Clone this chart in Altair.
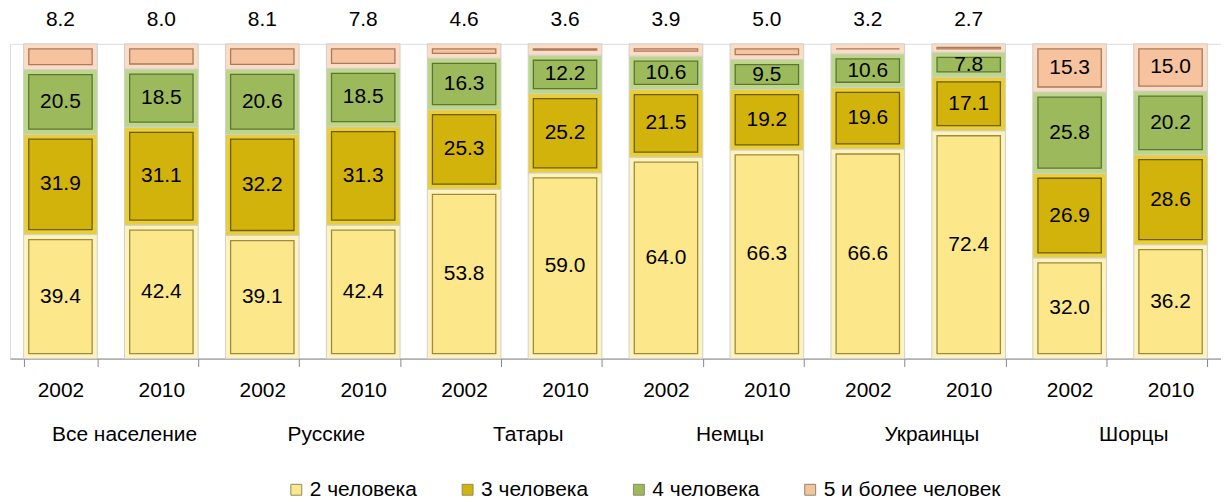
import altair as alt
import pandas as pd

groups = ["Все население", "Все население", "Русские", "Русские", "Татары", "Татары",
          "Немцы", "Немцы", "Украинцы", "Украинцы", "Шорцы", "Шорцы"]
years = ["2002", "2010"] * 6
two = [39.4, 42.4, 39.1, 42.4, 53.8, 59.0, 64.0, 66.3, 66.6, 72.4, 32.0, 36.2]
three = [31.9, 31.1, 32.2, 31.3, 25.3, 25.2, 21.5, 19.2, 19.6, 17.1, 26.9, 28.6]
four = [20.5, 18.5, 20.6, 18.5, 16.3, 12.2, 10.6, 9.5, 10.6, 7.8, 25.8, 20.2]
five = [8.2, 8.0, 8.1, 7.8, 4.6, 3.6, 3.9, 5.0, 3.2, 2.7, 15.3, 15.0]
categories = ["2 человека", "3 человека", "4 человека", "5 и более человек"]
colors = ["#FCE88A", "#D2B30C", "#9CBA5C", "#F7C29E"]
light = ["#FEF3BE", "#E8CF3A", "#BCD68A", "#FBDCC4"]
dark = ["#9C8C3C", "#6E5C00", "#5B7532", "#A97A5C"]

FONT = "Liberation Sans"
FS = 21

series = [two, three, four, five]
keys = [f"{g}|{y}" for g, y in zip(groups, years)]
rows = []
for i, k in enumerate(keys):
    base = 0.0
    for ci, cat in enumerate(categories):
        v = series[ci][i]
        rows.append({"key": k, "group": groups[i], "year": years[i], "cat": cat,
                     "order": ci, "value": v, "y0": base, "y1": base + v})
        base += v
df = pd.DataFrame(rows)

xenc = alt.X("key:N", sort=keys,
             scale=alt.Scale(paddingInner=0.27, paddingOuter=0.135),
             axis=alt.Axis(title=None, labelExpr="split(datum.label, '|')[1]",
                           labelAngle=0, tickBand="extent", tickSize=8,
                           tickColor="#868686", domainColor="#868686",
                           labelFontSize=FS, labelFont=FONT, labelColor="#000000",
                           labelPadding=13, grid=False))
yscale = alt.Scale(domain=[0, 100], nice=False, zero=True)

base = alt.Chart(df)

outer = base.mark_bar(stroke="#D0D0D0", strokeWidth=1).encode(
    x=xenc,
    y=alt.Y("y0:Q", scale=yscale, axis=None),
    y2="y1:Q",
    fill=alt.Fill("cat:N", scale=alt.Scale(domain=categories, range=light), legend=None),
)

inner = base.transform_calculate(
    yi0="datum.y0 + 1.6", yi1="datum.y1 - 1.6"
).mark_bar(width=alt.RelativeBandSize(0.86), strokeWidth=1.3).encode(
    x=alt.X("key:N", sort=keys),
    y=alt.Y("yi0:Q", scale=yscale, axis=None),
    y2="yi1:Q",
    color=alt.Color("cat:N", scale=alt.Scale(domain=categories, range=colors),
                    legend=alt.Legend(title=None, orient="none", direction="horizontal",
                                      legendX=277, legendY=437, symbolType="square",
                                      symbolSize=120, symbolStrokeColor="#8a8a6a",
                                      symbolStrokeWidth=1, labelFontSize=FS,
                                      labelFont=FONT, labelColor="#000000", labelLimit=0,
                                      columnPadding=40, symbolOffset=0, labelOffset=3)),
    stroke=alt.Stroke("cat:N", scale=alt.Scale(domain=categories, range=dark), legend=None),
)

labels = base.transform_calculate(
    ypos="(datum.order == 3 && datum.value < 12) ? 107.5 : (datum.y0 + datum.y1) / 2"
).mark_text(fontSize=FS, font=FONT, color="#000000", baseline="middle").encode(
    x=alt.X("key:N", sort=keys),
    y=alt.Y("ypos:Q", scale=yscale, axis=None),
    text=alt.Text("value:Q", format=".1f"),
)

group_labels = base.transform_filter(
    "datum.year == '2010' && datum.order == 0"
).mark_text(fontSize=FS, font=FONT, color="#000000", baseline="middle").encode(
    x=alt.X("key:N", sort=keys, bandPosition=0),
    y=alt.value(393),
    text="group:N",
)

chart = alt.layer(outer, inner, labels, group_labels).resolve_scale(
    color="independent"
).properties(
    width=1216, height=316,
    autosize=alt.AutoSizeParams(type="none"),
    padding={"left": 2, "top": 35, "right": 0, "bottom": 140},
).configure_view(stroke=None).configure(font=FONT)

chart.save("out.html", embed_options={"renderer": "svg", "actions": False})
